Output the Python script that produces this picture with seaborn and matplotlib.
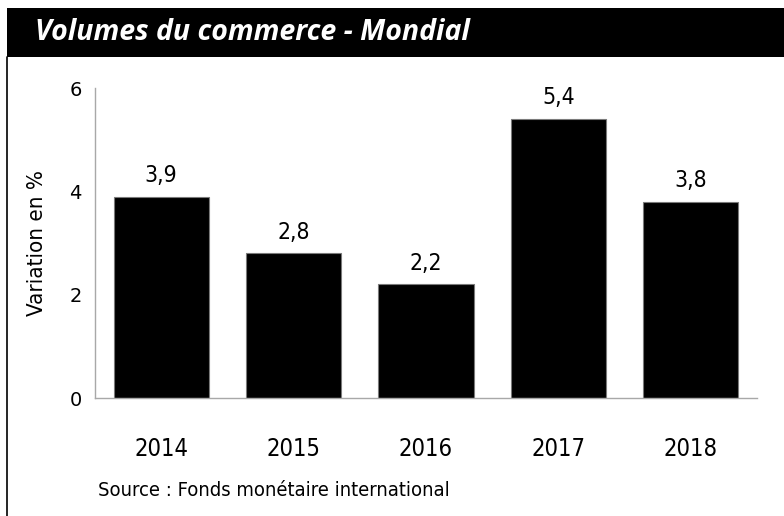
import matplotlib
matplotlib.use("Agg")
import pandas as pd
from matplotlib import pyplot as plt
from matplotlib.lines import Line2D
from matplotlib.patches import Rectangle
import seaborn as sns

sns.set_style("white")

# Data
years = ["2014", "2015", "2016", "2017", "2018"]
variation = [3.9, 2.8, 2.2, 5.4, 3.8]
yticks = [0, 2, 4, 6]

plt.rcParams["font.family"] = ["DejaVu Sans"]
plt.rcParams["font.stretch"] = "condensed"
plt.rcParams["text.color"] = "black"
plt.rcParams["axes.labelcolor"] = "black"
plt.rcParams["xtick.color"] = "black"
plt.rcParams["ytick.color"] = "black"

df = pd.DataFrame({"Annee": years, "Variation": variation})

fig = plt.figure(figsize=(7.84, 5.16), dpi=100)

# header band + left frame line
fig.patches.append(Rectangle((7 / 784, 1 - 57 / 516), 1, 49 / 516, transform=fig.transFigure,
                             facecolor="black", edgecolor="none", zorder=0))
fig.lines.append(Line2D([7 / 784, 7 / 784], [0, 1 - 57 / 516], transform=fig.transFigure,
                        color="black", linewidth=1.2))
fig.text(35 / 784, 1 - 33 / 516, "Volumes du commerce - Mondial", color="white",
         fontsize=20.5, fontweight="bold", fontstyle="italic", va="center", ha="left",
         family=["Open Sans", "DejaVu Sans"], stretch="normal")

ax = fig.add_axes([95 / 784, 1 - 398 / 516, 662 / 784, 310 / 516])
sns.barplot(data=df, x="Annee", y="Variation", color="black", saturation=1,
            width=0.72, edgecolor="#7a7a7a", linewidth=0.8, ax=ax)

ax.set_ylim(0, 6)
ax.set_xlim(-0.5, 4.5)
ax.set_yticks(yticks)
ax.set_yticklabels([str(t) for t in yticks], stretch="normal", fontsize=14)
ax.tick_params(axis="y", length=0, pad=9.5)
ax.tick_params(axis="x", length=0, pad=28, labelsize=17)

for side in ["top", "right"]:
    ax.spines[side].set_visible(False)
for side in ["left", "bottom"]:
    ax.spines[side].set_color("#a8a8a8")
    ax.spines[side].set_linewidth(1)

ax.set_xlabel("")
ax.set_ylabel("Variation en %", fontsize=16, labelpad=16)

ax.bar_label(ax.containers[0], labels=[f"{v:.1f}".replace(".", ",") for v in variation],
             padding=7, fontsize=16.5)

fig.text(98 / 784, 1 - 490 / 516, "Source : Fonds monétaire international",
         fontsize=14.5, va="center", ha="left")

fig.savefig("out.png", dpi=100)
